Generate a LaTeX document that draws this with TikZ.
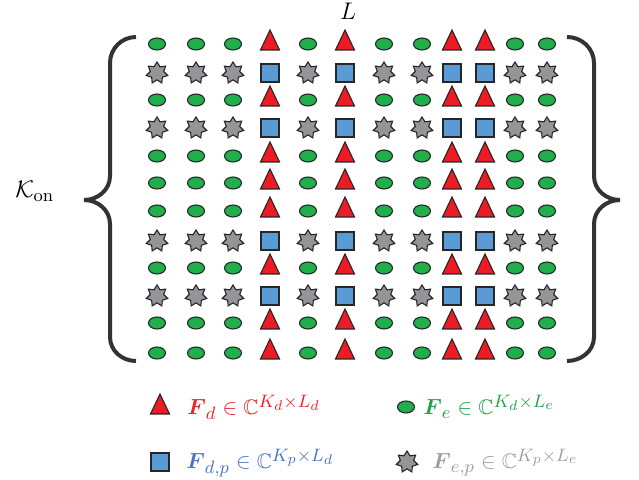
\documentclass[tikz,border=0pt]{standalone}
\usepackage{amsmath,amssymb}
\usetikzlibrary{shapes.geometric}
\DeclareMathSizes{10.5}{10.5}{9.2}{7}
\definecolor{tred}{HTML}{ED1C24}
\definecolor{tgreen}{HTML}{1FB04B}
\definecolor{tblue}{HTML}{5B9BD5}
\definecolor{tgray}{HTML}{939598}
\definecolor{bracec}{HTML}{333333}
\definecolor{txtred}{HTML}{E8262A}
\definecolor{txtgreen}{HTML}{22A24A}
\definecolor{txtblue}{HTML}{4A74C4}
\definecolor{txtgray}{HTML}{9E9E9E}
\begin{document}
\begin{tikzpicture}[x=0.5pt,y=-0.5pt,
  base/.style={draw=black!85, line width=0.55pt, inner sep=0pt, outer sep=0pt},
  Ga/.style={base, ellipse, fill=tgreen, minimum width=8.5pt, minimum height=6pt},
  Gb/.style={base, isosceles triangle, isosceles triangle stretches, shape border rotate=90, fill=tred, minimum width=9.5pt, minimum height=10pt},
  Pb/.style={base, rectangle, fill=tblue, minimum size=9pt},
  Pa/.style={base, star, star points=7, star point ratio=1.6, fill=tgray, minimum size=11pt},
  brace/.style={draw=bracec, line width=2pt},
  lbl/.style={inner sep=0pt, font=\fontsize{13}{15}\selectfont},
  leg/.style={inner sep=0pt, anchor=base west, font=\fontsize{10.5}{12.5}\selectfont}]
\useasboundingbox (0,0) rectangle (639,480);
% grid
\foreach \r/\y/\t in {1/44/G,2/73/P,3/100/G,4/128/P,5/156/G,6/183/G,7/211/G,8/241/P,9/268/G,10/296/P,11/323/G,12/353/G}{
  \foreach \c/\x/\k in {1/157/a,2/196/a,3/233/a,4/270/b,5/308/a,6/345/b,7/384/a,8/422/a,9/452/b,10/485/b,11/515/a,12/547/a}{
    \node[\t\k] (n\r-\c) at (\x,\y) {};
  }
}
% braces
\draw[brace] (136,37) to[out=180,in=90] (110,63) -- (110,176) to[out=-90,in=0] (84,200)
  to[out=0,in=90] (110,224) -- (110,337) to[out=-90,in=180] (136,361);
\draw[brace] (567,37) to[out=0,in=90] (594,63) -- (594,176) to[out=-90,in=180] (620,200)
  to[out=180,in=90] (594,224) -- (594,337) to[out=-90,in=0] (567,361);
% labels
\node[lbl, anchor=base] (Ltxt) at (348,20) {$L$};
\node[lbl, anchor=base west] (Ktxt) at (15,198) {$\mathcal{K}_{\mathrm{on}}$};
% legend
\node[Gb] (legT) at (160,408) {};
\node[leg, text=txtred] (legTt) at (187,415) {$\boldsymbol{F}_d \in \mathbb{C}^{K_d\times L_d}$};
\node[Ga] (legE) at (406,407) {};
\node[leg, text=txtgreen] (legEt) at (423,415) {$\boldsymbol{F}_e \in \mathbb{C}^{K_d\times L_e}$};
\node[Pb] (legS) at (160,462) {};
\node[leg, text=txtblue] (legSt) at (186,469) {$\boldsymbol{F}_{d,p} \in \mathbb{C}^{K_p\times L_d}$};
\node[Pa] (legP) at (407,462) {};
\node[leg, text=txtgray] (legPt) at (432,469) {$\boldsymbol{F}_{e,p} \in \mathbb{C}^{K_p\times L_e}$};
\end{tikzpicture}
\end{document}
